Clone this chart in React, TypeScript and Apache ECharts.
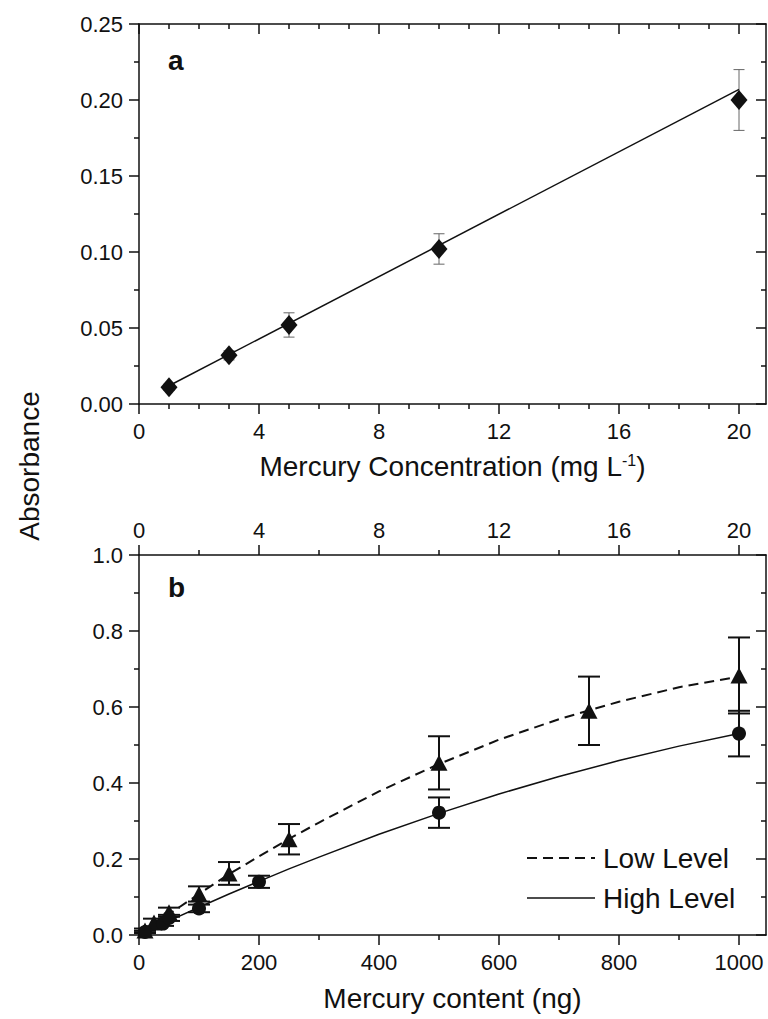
import React, { useEffect, useRef } from "react";
import * as echarts from "echarts";

// ---------- Panel a data ----------
const concA = [1, 3, 5, 10, 20];
const absA = [0.011, 0.032, 0.052, 0.102, 0.2];
const errA = [0.002, 0.003, 0.008, 0.01, 0.02];
const fitAX = [1, 20];
const fitAY = [0.012, 0.207];

// ---------- Panel b data ----------
const lowX = [10, 25, 50, 100, 150, 250, 500, 750, 1000];
const lowY = [0.012, 0.033, 0.06, 0.108, 0.162, 0.252, 0.453, 0.59, 0.683];
const lowErr = [0.005, 0.01, 0.012, 0.02, 0.03, 0.04, 0.07, 0.09, 0.1];
const highX = [10, 40, 50, 100, 200, 500, 1000];
const highY = [0.008, 0.03, 0.045, 0.07, 0.14, 0.322, 0.53];
const highErr = [0.003, 0.006, 0.008, 0.01, 0.016, 0.04, 0.06];
const curveX = [0, 50, 100, 150, 200, 250, 300, 400, 500, 600, 700, 800, 900, 1000];
const lowCurveY = [0, 0.055, 0.108, 0.16, 0.207, 0.253, 0.296, 0.378, 0.45, 0.514, 0.568, 0.614, 0.652, 0.68];
const highCurveY = [0, 0.037, 0.073, 0.108, 0.141, 0.174, 0.205, 0.265, 0.32, 0.371, 0.417, 0.459, 0.497, 0.53];

// ---------- Tick values ----------
const concTicks = [0, 4, 8, 12, 16, 20];
const concMinor1 = [1, 2, 3, 5, 6, 7, 9, 10, 11, 13, 14, 15, 17, 18, 19];
const concMinor2 = [2, 6, 10, 14, 18];
const ngTicks = [0, 200, 400, 600, 800, 1000];
const ngMinor = [100, 300, 500, 700, 900];
const legendNames = ["Low Level", "High Level"];

const FONT = "Liberation Sans, Arial, Helvetica, sans-serif";
const INK = "#111";

const lineSt = { color: INK, width: 1.5 };

function errorBar(capW: number, lw: number, color: string) {
  return (params: any, api: any) => {
    const x = api.value(0);
    const lo = api.value(1);
    const hi = api.value(2);
    const p1 = api.coord([x, lo]);
    const p2 = api.coord([x, hi]);
    const style = { stroke: color, lineWidth: lw, fill: "none" };
    return {
      type: "group",
      children: [
        { type: "line", shape: { x1: p1[0], y1: p1[1], x2: p2[0], y2: p2[1] }, style },
        { type: "line", shape: { x1: p1[0] - capW / 2, y1: p1[1], x2: p1[0] + capW / 2, y2: p1[1] }, style },
        { type: "line", shape: { x1: p2[0] - capW / 2, y1: p2[1], x2: p2[0] + capW / 2, y2: p2[1] }, style },
      ],
    };
  };
}

function xAx(o: any) {
  return {
    type: "value",
    splitLine: { show: false },
    ...o,
    axisLine: { onZero: false, lineStyle: lineSt, ...(o.axisLine || {}) },
    axisTick: { lineStyle: lineSt, ...(o.axisTick || {}) },
    axisLabel: { show: false, formatter: (v: number) => String(v), ...(o.axisLabel || {}) },
  };
}

const tickLabel = { fontSize: 22, margin: 16, color: INK, fontFamily: FONT };

export default function App() {
  const ref = useRef<HTMLDivElement>(null);
  useEffect(() => {
    if (!ref.current) return;
    const chart = echarts.init(ref.current, null, { renderer: "svg" });

    const gridW = 627;
    const concMax = 20.9;
    const ngMax = 1045;

    const xAxis = [
      xAx({
        gridIndex: 0, position: "bottom", min: 0, max: concMax,
        axisTick: { customValues: concTicks, length: 10, inside: false },
        axisLabel: { show: true, customValues: concTicks, ...tickLabel },
        name: "Mercury Concentration (mg L{sup|-1})",
        nameLocation: "middle", nameGap: 48,
        nameTextStyle: {
          fontSize: 28, fontFamily: FONT, color: INK,
          rich: { sup: { fontSize: 16, fontFamily: FONT, color: INK, verticalAlign: "top" } },
        },
      }),
      xAx({
        gridIndex: 0, position: "bottom", min: 0, max: concMax,
        axisLine: { show: false },
        axisTick: { customValues: concMinor1, length: 5, inside: false },
      }),
      xAx({
        gridIndex: 0, position: "top", min: 0, max: concMax,
        axisTick: { customValues: concTicks, length: 10, inside: true },
      }),
      xAx({
        gridIndex: 0, position: "top", min: 0, max: concMax,
        axisLine: { show: false },
        axisTick: { customValues: concMinor1, length: 5, inside: true },
      }),
      xAx({
        gridIndex: 1, position: "top", min: 0, max: concMax,
        axisTick: { customValues: concTicks, length: 10, inside: false },
        axisLabel: { show: true, customValues: concTicks, ...tickLabel, margin: 14 },
      }),
      xAx({
        gridIndex: 1, position: "top", min: 0, max: concMax,
        axisLine: { show: false },
        axisTick: { customValues: concMinor2, length: 5, inside: false },
      }),
      xAx({
        gridIndex: 1, position: "bottom", min: 0, max: ngMax,
        axisTick: { customValues: ngTicks, length: 10, inside: false },
        axisLabel: { show: true, customValues: ngTicks, ...tickLabel },
        name: "Mercury content (ng)",
        nameLocation: "middle", nameGap: 49,
        nameTextStyle: { fontSize: 28, fontFamily: FONT, color: INK },
      }),
      xAx({
        gridIndex: 1, position: "bottom", min: 0, max: ngMax,
        axisLine: { show: false },
        axisTick: { customValues: ngMinor, length: 5, inside: false },
      }),
    ];

    const yBase = (o: any) => ({
      type: "value",
      splitLine: { show: false },
      ...o,
      axisLine: { show: true, onZero: false, lineStyle: lineSt },
      minorTick: { show: true, splitNumber: 2, length: 5, lineStyle: lineSt },
    });

    const yAxis = [
      yBase({
        gridIndex: 0, position: "left", min: 0, max: 0.25, interval: 0.05,
        axisTick: { length: 10, inside: false, lineStyle: lineSt },
        axisLabel: { ...tickLabel, formatter: (v: number) => v.toFixed(2) },
      }),
      yBase({
        gridIndex: 0, position: "right", min: 0, max: 0.25, interval: 0.05,
        axisTick: { length: 10, inside: true, lineStyle: lineSt },
        axisLabel: { show: false },
      }),
      yBase({
        gridIndex: 1, position: "left", min: 0, max: 1, interval: 0.2,
        axisTick: { length: 10, inside: false, lineStyle: lineSt },
        axisLabel: { ...tickLabel, formatter: (v: number) => v.toFixed(1) },
      }),
      yBase({
        gridIndex: 1, position: "right", min: 0, max: 1, interval: 0.2,
        axisTick: { length: 10, inside: true, lineStyle: lineSt },
        axisLabel: { show: false },
      }),
    ];

    const option: any = {
      animation: false,
      backgroundColor: "#fff",
      textStyle: { fontFamily: FONT },
      grid: [
        { left: 139, top: 24, width: gridW, height: 380 },
        { left: 139, top: 555, width: gridW, height: 380 },
      ],
      xAxis,
      yAxis,
      graphic: [
        {
          type: "text", left: 168, top: 46,
          style: { text: "a", font: `bold 28px ${FONT}`, fill: INK },
        },
        {
          type: "text", left: 168, top: 573,
          style: { text: "b", font: `bold 28px ${FONT}`, fill: INK },
        },
        {
          type: "text", x: 29, y: 466, rotation: Math.PI / 2,
          style: { text: "Absorbance", font: `28px ${FONT}`, fill: INK, align: "center", verticalAlign: "middle" },
        },
        // legend
        {
          type: "line", shape: { x1: 527, y1: 858, x2: 595, y2: 858 },
          style: { stroke: INK, lineWidth: 2, lineDash: [10, 6] },
        },
        {
          type: "text", x: 603, y: 858,
          style: { text: legendNames[0], font: `28px ${FONT}`, fill: INK, align: "left", verticalAlign: "middle" },
        },
        {
          type: "line", shape: { x1: 527, y1: 898, x2: 595, y2: 898 },
          style: { stroke: INK, lineWidth: 1.5 },
        },
        {
          type: "text", x: 603, y: 898,
          style: { text: legendNames[1], font: `28px ${FONT}`, fill: INK, align: "left", verticalAlign: "middle" },
        },
      ],
      series: [
        {
          type: "custom", name: "err a", xAxisIndex: 0, yAxisIndex: 0, z: 2,
          renderItem: errorBar(11, 1, "#666"),
          encode: { x: 0, y: [1, 2] },
          data: concA.map((x, i) => [x, absA[i] - errA[i], absA[i] + errA[i]]),
        },
        {
          type: "line", name: "fit a", xAxisIndex: 0, yAxisIndex: 0, z: 3,
          symbol: "none", lineStyle: { color: INK, width: 1.5 },
          data: fitAX.map((x, i) => [x, fitAY[i]]),
        },
        {
          type: "scatter", name: "points a", xAxisIndex: 0, yAxisIndex: 0, z: 4,
          symbol: "diamond", symbolSize: [17, 20], itemStyle: { color: INK, opacity: 1 },
          data: concA.map((x, i) => [x, absA[i]]),
        },
        {
          type: "line", name: legendNames[0], xAxisIndex: 6, yAxisIndex: 2, z: 3,
          symbol: "none", lineStyle: { color: INK, width: 2, type: [10, 6] },
          data: curveX.map((x, i) => [x, lowCurveY[i]]),
        },
        {
          type: "line", name: legendNames[1], xAxisIndex: 6, yAxisIndex: 2, z: 3,
          symbol: "none", lineStyle: { color: INK, width: 1.5 },
          data: curveX.map((x, i) => [x, highCurveY[i]]),
        },
        {
          type: "custom", name: "err low", xAxisIndex: 6, yAxisIndex: 2, z: 4,
          renderItem: errorBar(22, 2, INK),
          encode: { x: 0, y: [1, 2] },
          data: lowX.map((x, i) => [x, lowY[i] - lowErr[i], lowY[i] + lowErr[i]]),
        },
        {
          type: "custom", name: "err high", xAxisIndex: 6, yAxisIndex: 2, z: 4,
          renderItem: errorBar(22, 2, INK),
          encode: { x: 0, y: [1, 2] },
          data: highX.map((x, i) => [x, highY[i] - highErr[i], highY[i] + highErr[i]]),
        },
        {
          type: "scatter", name: "low points", xAxisIndex: 6, yAxisIndex: 2, z: 5,
          symbol: "triangle", symbolSize: [17, 16], itemStyle: { color: INK, opacity: 1 },
          data: lowX.map((x, i) => [x, lowY[i]]),
        },
        {
          type: "scatter", name: "high points", xAxisIndex: 6, yAxisIndex: 2, z: 5,
          symbol: "circle", symbolSize: 14, itemStyle: { color: INK, opacity: 1 },
          data: highX.map((x, i) => [x, highY[i]]),
        },
      ],
    };

    chart.setOption(option);
    return () => chart.dispose();
  }, []);

  return (
    <div
      ref={ref}
      style={{ position: "absolute", left: 0, top: 0, width: 768, height: 1019, background: "#fff" }}
    />
  );
}
